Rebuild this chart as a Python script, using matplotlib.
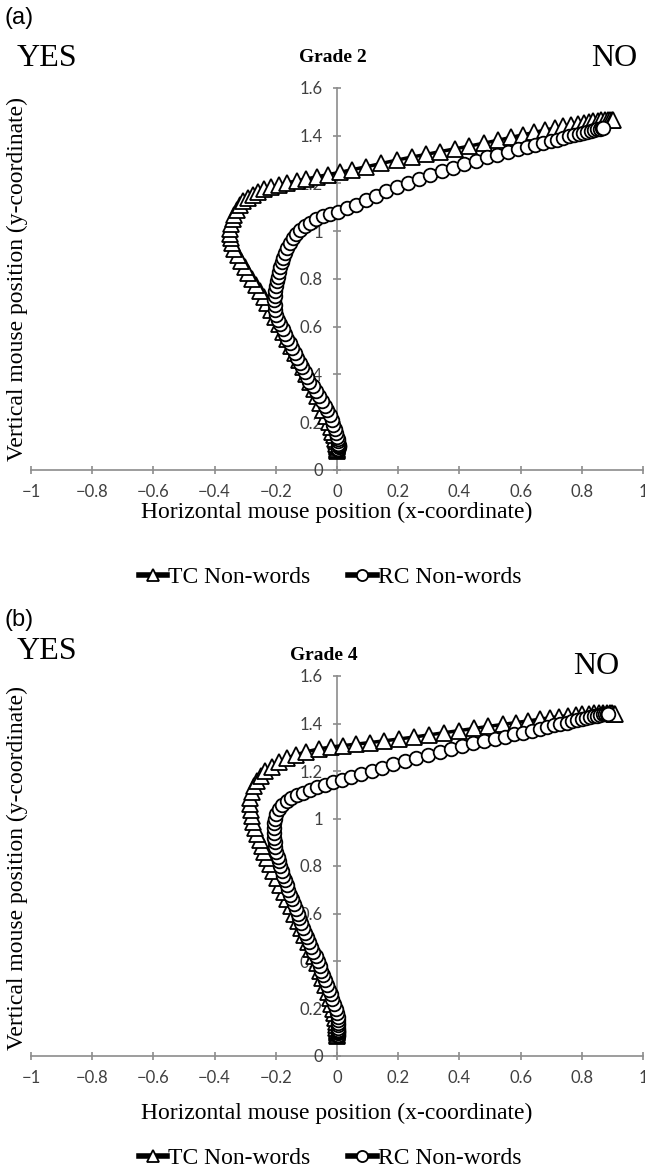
import matplotlib
matplotlib.use("Agg")
import matplotlib.pyplot as plt
from matplotlib.lines import Line2D

# ---------------------------------------------------------------------------
# Data: mean mouse trajectories (x, y), start -> end
# ---------------------------------------------------------------------------

# Grade 2, TC non-words
g2_tc_x = [0.0, 0.0, 0.0, 0.0, 0.0, 0.0, -0.002, -0.004, -0.007, -0.01, -0.015, -0.02,
           -0.027, -0.035, -0.045, -0.055, -0.065, -0.075, -0.087, -0.1, -0.112, -0.125,
           -0.137, -0.15, -0.163, -0.176, -0.19, -0.203, -0.215, -0.228, -0.24, -0.252,
           -0.265, -0.278, -0.29, -0.302, -0.314, -0.325, -0.335, -0.343, -0.348, -0.35,
           -0.349, -0.346, -0.341, -0.335, -0.327, -0.318, -0.306, -0.292, -0.276, -0.258,
           -0.238, -0.215, -0.19, -0.162, -0.132, -0.1, -0.066, -0.03, 0.01, 0.05, 0.095,
           0.145, 0.195, 0.245, 0.292, 0.338, 0.385, 0.433, 0.48, 0.525, 0.568, 0.608,
           0.645, 0.68, 0.712, 0.74, 0.765, 0.787, 0.806, 0.823, 0.838, 0.852, 0.864,
           0.875, 0.884, 0.892, 0.898, 0.902]
g2_tc_y = [0.08, 0.085, 0.09, 0.095, 0.1, 0.105, 0.11, 0.12, 0.13, 0.145, 0.16, 0.18,
           0.2, 0.225, 0.25, 0.28, 0.31, 0.34, 0.37, 0.4, 0.43, 0.46, 0.49, 0.52, 0.55,
           0.58, 0.61, 0.64, 0.67, 0.7, 0.725, 0.75, 0.775, 0.8, 0.825, 0.85, 0.875, 0.9,
           0.925, 0.95, 0.97, 0.99, 1.01, 1.03, 1.05, 1.07, 1.09, 1.11, 1.125, 1.14,
           1.153, 1.165, 1.176, 1.186, 1.195, 1.203, 1.211, 1.219, 1.228, 1.237, 1.247,
           1.258, 1.27, 1.284, 1.298, 1.311, 1.322, 1.334, 1.345, 1.357, 1.369, 1.381,
           1.393, 1.404, 1.414, 1.424, 1.432, 1.44, 1.446, 1.451, 1.455, 1.458, 1.461,
           1.463, 1.465, 1.466, 1.467, 1.468, 1.468, 1.468]

# Grade 2, RC non-words
g2_rc_x = [0.003, 0.004, 0.005, 0.005, 0.005, 0.004, 0.003, 0.002, 0.0, -0.003, -0.007,
           -0.012, -0.017, -0.024, -0.032, -0.04, -0.05, -0.06, -0.07, -0.08, -0.09,
           -0.098, -0.106, -0.114, -0.122, -0.13, -0.138, -0.146, -0.154, -0.162, -0.17,
           -0.178, -0.186, -0.193, -0.198, -0.202, -0.204, -0.205, -0.204, -0.202, -0.2,
           -0.197, -0.194, -0.19, -0.186, -0.181, -0.176, -0.17, -0.163, -0.155, -0.145,
           -0.133, -0.12, -0.105, -0.088, -0.068, -0.046, -0.022, 0.004, 0.032, 0.062,
           0.094, 0.127, 0.161, 0.196, 0.232, 0.268, 0.305, 0.342, 0.379, 0.416, 0.453,
           0.489, 0.524, 0.558, 0.59, 0.62, 0.648, 0.674, 0.698, 0.72, 0.74, 0.758, 0.775,
           0.79, 0.804, 0.817, 0.829, 0.84, 0.85, 0.858, 0.865, 0.87]
g2_rc_y = [0.085, 0.09, 0.095, 0.1, 0.105, 0.11, 0.12, 0.13, 0.14, 0.155, 0.17, 0.19,
           0.21, 0.23, 0.25, 0.27, 0.29, 0.31, 0.33, 0.35, 0.37, 0.39, 0.41, 0.43, 0.45,
           0.47, 0.49, 0.51, 0.53, 0.55, 0.57, 0.59, 0.61, 0.63, 0.65, 0.67, 0.69, 0.71,
           0.73, 0.75, 0.77, 0.79, 0.81, 0.83, 0.85, 0.87, 0.89, 0.91, 0.93, 0.95, 0.97,
           0.99, 1.007, 1.022, 1.036, 1.05, 1.063, 1.072, 1.082, 1.096, 1.112, 1.13, 1.149,
           1.168, 1.186, 1.204, 1.22, 1.236, 1.252, 1.267, 1.282, 1.296, 1.309, 1.321,
           1.332, 1.343, 1.352, 1.361, 1.369, 1.377, 1.384, 1.391, 1.397, 1.403, 1.408,
           1.413, 1.417, 1.421, 1.424, 1.427, 1.429, 1.431, 1.432]

# Grade 4, TC non-words
g4_tc_x = [0.0, 0.0, 0.0, 0.0, 0.0, -0.001, -0.002, -0.003, -0.004, -0.006, -0.009,
           -0.013, -0.018, -0.024, -0.031, -0.039, -0.048, -0.057, -0.066, -0.076, -0.086,
           -0.096, -0.107, -0.118, -0.129, -0.14, -0.151, -0.162, -0.173, -0.185, -0.197,
           -0.208, -0.218, -0.228, -0.237, -0.245, -0.253, -0.26, -0.267, -0.273, -0.278,
           -0.282, -0.284, -0.283, -0.279, -0.272, -0.263, -0.25, -0.234, -0.214, -0.19,
           -0.163, -0.135, -0.1, -0.06, -0.02, 0.02, 0.062, 0.108, 0.155, 0.203, 0.252,
           0.3, 0.349, 0.398, 0.447, 0.495, 0.541, 0.585, 0.625, 0.662, 0.696, 0.727,
           0.755, 0.78, 0.802, 0.822, 0.84, 0.856, 0.87, 0.882, 0.892, 0.9, 0.906, 0.91]
g4_tc_y = [0.085, 0.09, 0.095, 0.1, 0.105, 0.11, 0.12, 0.13, 0.145, 0.16, 0.18, 0.2,
           0.22, 0.245, 0.27, 0.3, 0.33, 0.36, 0.39, 0.42, 0.45, 0.48, 0.51, 0.54, 0.57,
           0.6, 0.63, 0.66, 0.69, 0.72, 0.75, 0.78, 0.81, 0.835, 0.86, 0.885, 0.91, 0.935,
           0.96, 0.985, 1.01, 1.035, 1.06, 1.085, 1.11, 1.135, 1.158, 1.18, 1.2, 1.218,
           1.238, 1.254, 1.268, 1.281, 1.293, 1.301, 1.307, 1.313, 1.32, 1.327, 1.335,
           1.343, 1.352, 1.361, 1.37, 1.379, 1.388, 1.396, 1.404, 1.411, 1.418, 1.424,
           1.429, 1.433, 1.437, 1.44, 1.442, 1.444, 1.445, 1.445, 1.445, 1.444, 1.443,
           1.442, 1.441]

# Grade 4, RC non-words
g4_rc_x = [0.002, 0.003, 0.004, 0.004, 0.004, 0.004, 0.004, 0.004, 0.004, 0.004, 0.003,
           0.0, -0.004, -0.009, -0.015, -0.021, -0.027, -0.033, -0.039, -0.045, -0.051,
           -0.057, -0.063, -0.07, -0.077, -0.084, -0.091, -0.098, -0.105, -0.111, -0.117,
           -0.123, -0.129, -0.135, -0.141, -0.147, -0.153, -0.159, -0.165, -0.17, -0.175,
           -0.18, -0.185, -0.19, -0.194, -0.198, -0.201, -0.204, -0.206, -0.207, -0.207,
           -0.206, -0.203, -0.198, -0.19, -0.179, -0.165, -0.149, -0.131, -0.111, -0.089,
           -0.065, -0.04, -0.013, 0.016, 0.047, 0.079, 0.113, 0.148, 0.184, 0.221, 0.259,
           0.297, 0.335, 0.373, 0.41, 0.446, 0.481, 0.515, 0.548, 0.579, 0.608, 0.636,
           0.662, 0.686, 0.709, 0.73, 0.75, 0.768, 0.785, 0.8, 0.814, 0.827, 0.839, 0.85,
           0.86, 0.868, 0.875, 0.881, 0.886]
g4_rc_y = [0.085, 0.09, 0.095, 0.1, 0.105, 0.11, 0.12, 0.13, 0.14, 0.15, 0.165, 0.18,
           0.2, 0.22, 0.24, 0.26, 0.28, 0.3, 0.32, 0.34, 0.36, 0.38, 0.4, 0.42, 0.44,
           0.46, 0.48, 0.5, 0.52, 0.54, 0.56, 0.58, 0.6, 0.62, 0.64, 0.66, 0.68, 0.7,
           0.72, 0.74, 0.76, 0.78, 0.8, 0.82, 0.84, 0.86, 0.88, 0.9, 0.92, 0.94, 0.96,
           0.98, 1.0, 1.02, 1.04, 1.058, 1.073, 1.086, 1.098, 1.109, 1.12, 1.131, 1.142,
           1.153, 1.164, 1.175, 1.186, 1.198, 1.214, 1.23, 1.242, 1.254, 1.266, 1.279,
           1.292, 1.304, 1.316, 1.326, 1.336, 1.345, 1.354, 1.362, 1.37, 1.378, 1.385,
           1.392, 1.398, 1.404, 1.41, 1.415, 1.419, 1.423, 1.427, 1.43, 1.433, 1.436,
           1.438, 1.44, 1.441, 1.442]

x_ticks = [-1, -0.8, -0.6, -0.4, -0.2, 0, 0.2, 0.4, 0.6, 0.8, 1]
x_tick_labels = ["\u22121", "\u22120.8", "\u22120.6", "\u22120.4", "\u22120.2", "0",
                 "0.2", "0.4", "0.6", "0.8", "1"]
y_ticks = [0, 0.2, 0.4, 0.6, 0.8, 1, 1.2, 1.4, 1.6]
y_tick_labels = ["0", "0.2", "0.4", "0.6", "0.8", "1", "1.2", "1.4", "1.6"]
series_labels = ["TC Non-words", "RC Non-words"]

# ---------------------------------------------------------------------------
# Figure / layout helpers (pixel positions of the original 645x1176 image)
# ---------------------------------------------------------------------------

W, H = 645, 1176
fig = plt.figure(figsize=(W / 100, H / 100), dpi=100)

SERIF = "Liberation Serif"
SANS = "Liberation Sans"
TICKFONT = "Lato"
AXIS_GRAY = "#8c8c8c"


def fx(px):
    return px / W


def fy(py):
    return 1 - py / H


def draw_panel(tc_x, tc_y, rc_x, rc_y, y_zero, y_top):
    ax = fig.add_axes([fx(31), fy(y_zero), (643 - 31) / W, (y_zero - y_top) / H])
    ax.plot(tc_x, tc_y, color="black", lw=2.5, marker="^", ms=12,
            mfc="white", mec="black", mew=1.3, clip_on=False)
    ax.plot(rc_x, rc_y, color="black", lw=2.5, marker="o", ms=9.8,
            mfc="white", mec="black", mew=1.3, clip_on=False)
    ax.set_xlim(-1, 1)
    ax.set_ylim(0, 1.6)
    ax.spines["left"].set_position(("data", 0))
    ax.spines["bottom"].set_position(("data", 0))
    for side in ("top", "right"):
        ax.spines[side].set_visible(False)
    for side in ("left", "bottom"):
        ax.spines[side].set_color(AXIS_GRAY)
        ax.spines[side].set_linewidth(1.2)
        ax.spines[side].set_zorder(0)
    ax.set_xticks(x_ticks)
    ax.set_xticklabels(x_tick_labels)
    ax.set_yticks(y_ticks)
    ax.set_yticklabels(y_tick_labels)
    ax.tick_params(axis="both", direction="inout", length=6, width=1.2,
                   color=AXIS_GRAY, labelsize=12, labelcolor="#404040")
    ax.tick_params(axis="y", pad=7)
    ax.tick_params(axis="x", pad=7)
    for lab in ax.get_xticklabels() + ax.get_yticklabels():
        lab.set_fontfamily(TICKFONT)
    ax.patch.set_alpha(0)
    return ax


def draw_texts(tag, tag_y, yes_y, grade, grade_x, grade_y, grade_size, no_x, no_y,
               xlabel_y, ylabel_y, legend_y):
    fig.text(fx(5), fy(tag_y), tag, family=SANS, fontsize=17, va="center", ha="left")
    fig.text(fx(17), fy(yes_y), "YES", family=SERIF, fontsize=23, va="center", ha="left")
    fig.text(fx(no_x), fy(no_y), "NO", family=SERIF, fontsize=23, va="center", ha="left")
    fig.text(fx(grade_x), fy(grade_y), grade, family=SERIF, fontsize=grade_size,
             fontweight="bold", va="center", ha="center")
    fig.text(fx(337), fy(xlabel_y), "Horizontal mouse position (x-coordinate)",
             family=SERIF, fontsize=17, va="center", ha="center")
    fig.text(fx(17), fy(ylabel_y), "Vertical mouse position (y-coordinate)",
             family=SERIF, fontsize=17, va="center", ha="center", rotation=90)
    handles = [
        Line2D([], [], color="black", lw=4, marker="^", ms=9, mfc="white",
               mec="black", mew=1.3),
        Line2D([], [], color="black", lw=4, marker="o", ms=8, mfc="white",
               mec="black", mew=1.3),
    ]
    fig.legend(handles, series_labels, loc="center", bbox_to_anchor=(fx(330), fy(legend_y)),
               ncol=2, frameon=False, prop={"family": SERIF, "size": 17},
               handlelength=1.2, handletextpad=0.05, columnspacing=1.6,
               borderpad=0, borderaxespad=0)


# Panel (a): Grade 2
draw_panel(g2_tc_x, g2_tc_y, g2_rc_x, g2_rc_y, y_zero=470, y_top=88)
draw_texts("(a)", 18, 58, "Grade 2", 333, 57, 14, 591, 58,
           xlabel_y=512, ylabel_y=279, legend_y=577)

# Panel (b): Grade 4
draw_panel(g4_tc_x, g4_tc_y, g4_rc_x, g4_rc_y, y_zero=1056, y_top=676)
draw_texts("(b)", 620, 652, "Grade 4", 324, 655, 14, 573, 667,
           xlabel_y=1113, ylabel_y=868, legend_y=1158)

fig.savefig("out.png", dpi=100)
